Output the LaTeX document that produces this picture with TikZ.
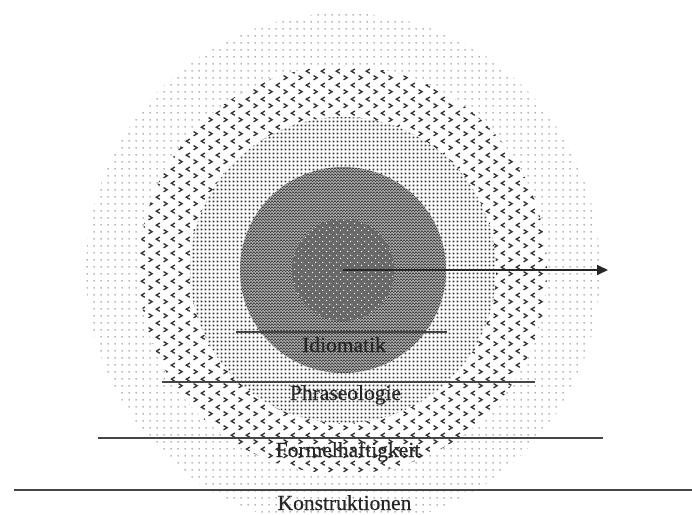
\documentclass[tikz,border=0pt]{standalone}
\usepackage{fontspec}
\setmainfont{Liberation Serif}[FakeBold=0.5]
\usetikzlibrary{patterns.meta,arrows.meta}
\definecolor{ink}{HTML}{262626}
\definecolor{rule}{HTML}{454545}
\definecolor{lightdot}{HTML}{A0A0A0}
\definecolor{chev}{HTML}{333333}
\definecolor{fine}{HTML}{333333}
\definecolor{core}{HTML}{A8A8A8}
\definecolor{coredark}{HTML}{454545}
\definecolor{inner}{HTML}{686868}

\tikzdeclarepattern{
  name=lightdots, type=colored,
  bottom left={(0pt,0pt)}, top right={(7pt,7pt)}, tile size={(7pt,7pt)},
  code={\fill[lightdot] (3.5pt,3.5pt) circle (1pt);}
}
\tikzdeclarepattern{
  name=chevrons, type=colored,
  bottom left={(0pt,0pt)}, top right={(14.7pt,14pt)}, tile size={(14.7pt,14pt)},
  code={
    \draw[chev,line width=1.4pt] (1.6pt,5.8pt) -- (5.2pt,3.5pt) -- (1.6pt,1.2pt);
    \draw[chev,line width=1.4pt] (13.1pt,12.8pt) -- (9.5pt,10.5pt) -- (13.1pt,8.2pt);
  }
}
\tikzdeclarepattern{
  name=finedots, type=colored,
  bottom left={(0pt,0pt)}, top right={(4pt,4pt)}, tile size={(4pt,4pt)},
  code={\fill[fine] (0.9pt,0.9pt) rectangle (3pt,3pt);}
}
\tikzdeclarepattern{
  name=checker, type=colored,
  bottom left={(0pt,0pt)}, top right={(3pt,3pt)}, tile size={(3pt,3pt)},
  code={\fill[coredark] (0pt,0pt) rectangle (1.5pt,1.5pt);
        \fill[coredark] (1.5pt,1.5pt) rectangle (3pt,3pt);}
}
\tikzdeclarepattern{
  name=whitedots, type=colored,
  bottom left={(0pt,0pt)}, top right={(6.6pt,6.6pt)}, tile size={(6.6pt,6.6pt)},
  code={\fill[white!92!gray] (1.65pt,1.65pt) circle (0.75pt);
        \fill[white!92!gray] (4.95pt,4.95pt) circle (0.75pt);}
}

\tikzset{
  sep/.style={draw=rule,line width=1.3pt},
  lbl/.style={text=ink,font=\fontsize{21.5}{25}\selectfont,anchor=base,inner sep=0pt},
  arr/.style={draw=ink,line width=1.8pt,-{Triangle[length=11pt,width=10pt]}}
}

\begin{document}
\begin{tikzpicture}[x=1pt,y=-1pt]
\useasboundingbox (0,0) rectangle (692,514);
\coordinate (C) at (343,270);
\begin{scope}
\clip (0,0) rectangle (692,514);
\path[pattern=lightdots] (C) circle (257pt);
\path[fill=white] (C) circle (204pt);
\path[pattern=chevrons] (C) circle (204pt);
\path[fill=white] (C) circle (153pt);
\path[pattern=finedots] (C) circle (153pt);
\path[fill=core] (C) circle (103pt);
\path[pattern=checker] (C) circle (103pt);
\path[fill=inner] (C) circle (51pt);
\path[pattern=whitedots] (C) circle (51pt);
\end{scope}

\coordinate (i1) at (236,332); \coordinate (i2) at (447,332);
\coordinate (p1) at (162,382); \coordinate (p2) at (535,382);
\coordinate (f1) at (98,438);  \coordinate (f2) at (603,438);
\coordinate (k1) at (14,490);  \coordinate (k2) at (692,490);
\draw[sep] (i1) -- (i2);
\draw[sep] (p1) -- (p2);
\draw[sep] (f1) -- (f2);
\draw[sep] (k1) -- (k2);

\coordinate (tip) at (608,270);
\draw[arr] (C) -- (tip);

\node[lbl] (idio) at (344,352) {Idiomatik};
\node[lbl] (phra) at (345.5,400) {Phraseologie};
\node[lbl] (form) at (348,457) {Formelhaftigkeit};
\node[lbl] (kons) at (344.5,510) {Konstruktionen};
\end{tikzpicture}
\end{document}
